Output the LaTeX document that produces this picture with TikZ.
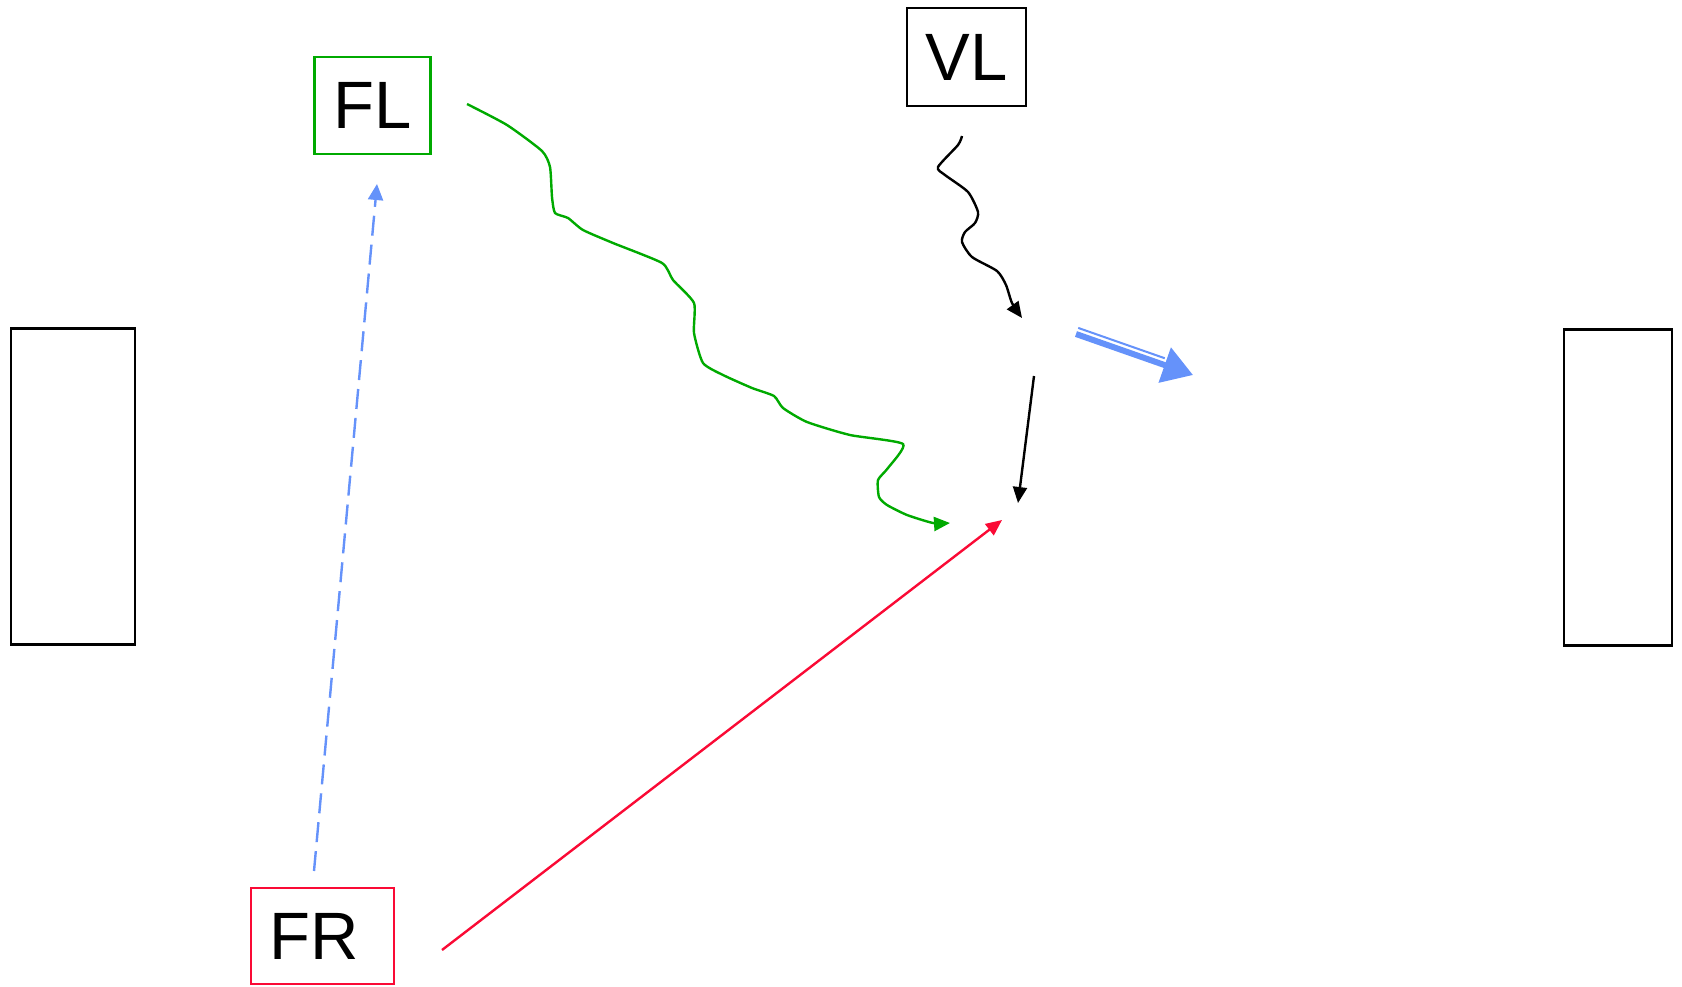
\documentclass[tikz,border=0pt]{standalone}
\usepackage{fontspec}
\setmainfont{Liberation Sans}
\usepackage{tikz}
\usetikzlibrary{arrows.meta, positioning, calc}
\usepackage{xcolor}
\definecolor{PlayGreen}{HTML}{00AA00}
\definecolor{PlayRed}{HTML}{FA0A35}
\definecolor{PlayBlue}{HTML}{6592FA}
\definecolor{PlayBlack}{HTML}{000000}
\tikzset{
    % Node styles - all with sharp corners
    playerbox/.style={
        rectangle,
        draw=PlayBlack,
        line width=2.5pt,
        inner sep=0pt,
        minimum width=116pt,
        minimum height=97pt,
        text centered,
        font=\fontsize{67}{67}\selectfont
    },
    goalbox/.style={
        rectangle,
        draw=PlayBlack,
        line width=2.8pt,
        inner sep=0pt,
        minimum height=316pt
    },
    % Arrow styles
    wavearrow/.style={
        -{Triangle[length=16pt,width=14pt]},
        line width=2.4pt
    },
    passarrow/.style={
        -{Triangle[length=16pt,width=14pt]},
        line width=2.4pt,
        PlayBlack
    },
    runarrow/.style={
        -{Triangle[length=16pt,width=15pt]},
        line width=2.4pt,
        dash pattern=on 20pt off 9pt,
        PlayBlue
    }
}
\begin{document}
\begin{tikzpicture}[x=1pt, y=-1pt]
    \useasboundingbox (0,0) rectangle (1682,986);

    % Goals
    \node[goalbox, minimum width=124pt] (leftgoal) at (73,486.5) {};
    \node[goalbox, minimum width=108pt] (rightgoal) at (1618,487.5) {};

    % Players
    \node[playerbox, draw=PlayGreen] (FL) at (372.5,105.5) {FL};
    \node[playerbox, minimum width=119pt, minimum height=98pt] (VL) at (966.5,57) {VL};
    \node[playerbox, draw=PlayRed, minimum width=143pt, minimum height=96pt] (FR) at (322.5,936) {FR\kern16pt};

    % Free ends
    \coordinate (flstart) at (467,104);
    \coordinate (flend) at (950,523);
    \coordinate (vlstart) at (962,136);
    \coordinate (vlend) at (1022,318);
    \coordinate (passstart) at (1034,376);
    \coordinate (passend) at (1018,503);
    \coordinate (frstart) at (442,950);
    \coordinate (frend) at (1002,520);
    \coordinate (runstart) at (314,871);
    \coordinate (runend) at (377,184);
    \coordinate (shotstart) at (1076,334);
    \coordinate (shotend) at (1193,375);

    % Dribbles
    \draw[wavearrow, PlayGreen] plot[smooth, tension=0.35] coordinates {
        (flstart) (507,125) (542,151) (550,167) (552,197) (555,213) (568,218)
        (583,230) (613,243) (662,263) (673,280) (694,303) (694,333) (703,363)
        (723,375) (752,388) (774,396) (783,408) (807,422) (850,435) (903,444)
        (888,468) (878,480) (879,497) (887,505) (907,515) (933,523) (flend)};
    \draw[wavearrow, PlayBlack] plot[smooth, tension=0.4] coordinates {
        (vlstart) (958,145) (938,167) (945,175) (968,192) (978,212) (975,223)
        (965,232) (962,242) (972,257) (997,271) (1006,285) (1012,303) (vlend)};

    % Passes and runs
    \draw[passarrow] (passstart) -- (passend);
    \draw[passarrow, PlayRed] (frstart) -- (frend);
    \draw[runarrow] (runstart) -- (runend);

    % Shot
    \draw[PlayBlue, line width=6pt, -{Triangle[length=30pt,width=36pt]}] (shotstart) -- (shotend);
    \draw[PlayBlue, line width=2pt] ($(shotstart)+(2.2,-6.1)$) -- ($(shotstart)!0.74!(shotend)+(2.2,-6.1)$);
\end{tikzpicture}
\end{document}
